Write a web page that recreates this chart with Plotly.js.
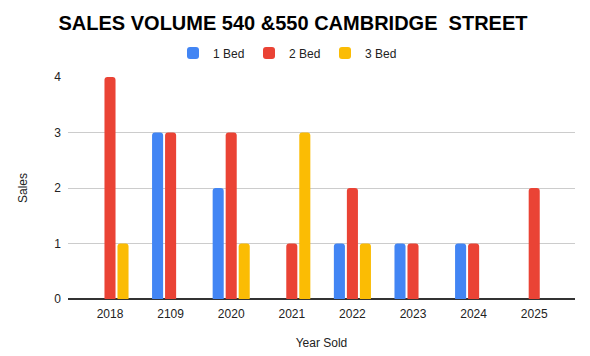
<!DOCTYPE html>
<html>
<head>
<meta charset="utf-8">
<script src="https://cdn.plot.ly/plotly-3.0.1.min.js"></script>
<style>html,body{margin:0;padding:0;background:#fff;}#chart{width:590px;height:356px;}</style>
</head>
<body>
<div id="chart"></div>
<script>
const years = ["2018", "2109", "2020", "2021", "2022", "2023", "2024", "2025"];
const bed1 = [0, 3, 2, 0, 1, 1, 1, 0];
const bed2 = [4, 3, 3, 1, 2, 1, 1, 2];
const bed3 = [1, 0, 1, 3, 1, 0, 0, 0];
const seriesNames = ["1 Bed", "2 Bed", "3 Bed"];
const colors = ["#4285F4", "#EA4335", "#FBBC04"];

const traces = [bed1, bed2, bed3].map((vals, i) => ({
  type: "bar",
  name: seriesNames[i],
  x: years,
  y: vals,
  marker: {color: colors[i], cornerradius: 3},
  hoverinfo: "x+y+name"
}));

const layout = {
  width: 590, height: 356,
  margin: {l: 68, r: 15, t: 77, b: 57},
  paper_bgcolor: "#fff", plot_bgcolor: "#fff",
  font: {family: "Arial, 'Liberation Sans', sans-serif", color: "#222", size: 12},
  title: {
    text: "<b>SALES VOLUME 540 &550 CAMBRIDGE  STREET</b>",
    font: {size: 20, color: "#000", family: "Arial, 'Liberation Sans', sans-serif"},
    x: 293/590, xanchor: "center", xref: "container",
    y: 1 - 22.5/356, yanchor: "middle", yref: "container"
  },
  barmode: "group",
  bargap: 0.356,
  bargroupgap: 0.15,
  showlegend: true,
  legend: {
    orientation: "h", x: 287/590, xanchor: "center", xref: "container",
    y: 1 - 53/356, yanchor: "middle", yref: "container",
    font: {size: 12, color: "#222"}, itemwidth: 30, traceorder: "normal",
    entrywidth: 31, entrywidthmode: "pixels"
  },
  xaxis: {
    type: "category",
    range: [-0.693, 7.673],
    showgrid: false, showline: false, zeroline: false,
    ticks: "", ticklabelstandoff: 6, tickfont: {size: 12, color: "#222"},
    title: {text: "Year Sold", font: {size: 12, color: "#222"}, standoff: 18},
    automargin: false, fixedrange: true
  },
  yaxis: {
    range: [0, 4], dtick: 1, tick0: 0,
    showgrid: true, gridcolor: "#cccccc", gridwidth: 1,
    zeroline: true, zerolinecolor: "#333", zerolinewidth: 1.5,
    showline: false, ticks: "", ticklabelstandoff: 6,
    tickfont: {size: 12, color: "#222"},
    title: {text: "Sales", font: {size: 12, color: "#222"}, standoff: 24},
    automargin: false, fixedrange: true
  }
};

Plotly.newPlot("chart", traces, layout, {displayModeBar: false, staticPlot: true});
</script>
</body>
</html>
